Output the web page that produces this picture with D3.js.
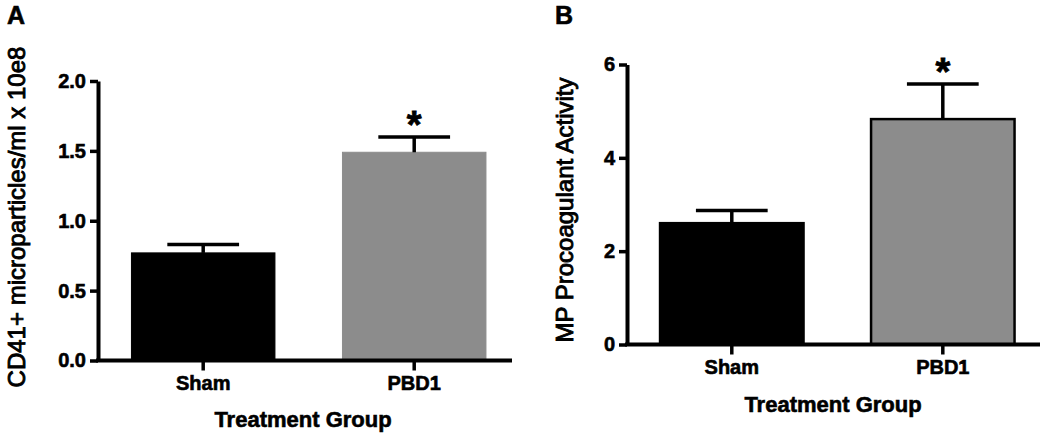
<!DOCTYPE html>
<html>
<head>
<meta charset="utf-8">
<script src="https://cdn.jsdelivr.net/npm/d3@7"></script>
<style>
  html, body { margin: 0; padding: 0; background: #fff; }
  svg { display: block; }
  text { font-family: "Liberation Sans", Arial, sans-serif; fill: #000; }
</style>
</head>
<body>
<svg id="chart" width="1050" height="436"></svg>
<script>
// ---- data ----
const categories = ["Sham", "PBD1"];
const cd41Means = [0.77, 1.49];
const cd41Sem = [0.06, 0.11];
const procoagMeans = [2.60, 4.83];
const procoagSem = [0.27, 0.75];
const cd41Ticks = [0, 0.5, 1.0, 1.5, 2.0];
const procoagTicks = [0, 2, 4, 6];
const significant = [false, true];
const panelLabels = ["A", "B"];
const yTitles = ["CD41+ microparticles/ml x 10e8", "MP Procoagulant Activity"];
const xTitle = "Treatment Group";

const svg = d3.select("#chart");
const FONT = "'Liberation Sans', Arial, sans-serif";
const AXIS_W = 4;

function heavy(sel, w) {
  return sel.attr("stroke", "#000").attr("stroke-width", w).attr("paint-order", "stroke");
}

function drawPanel(cfg) {
  const g = svg.append("g");
  const x = d3.scaleBand().domain(categories)
    .range([cfg.bandL, cfg.bandR]).paddingInner(0.32).paddingOuter(0.15);
  const y = d3.scaleLinear().domain(cfg.domain).range([cfg.y0, cfg.y1]);

  // bars
  g.selectAll("rect.bar").data(categories).enter().append("rect")
    .attr("class", "bar")
    .attr("x", d => x(d))
    .attr("width", x.bandwidth())
    .attr("y", (d, i) => y(cfg.means[i]))
    .attr("height", (d, i) => y(0) - y(cfg.means[i]))
    .attr("fill", (d, i) => i === 0 ? "#000" : "#8c8c8c")
    .attr("stroke", (d, i) => i === 0 ? "#000" : cfg.grayStroke)
    .attr("stroke-width", cfg.grayStrokeW);

  // error bars (upper only)
  const capW = x.bandwidth() * 0.5;
  categories.forEach((c, i) => {
    const cx = x(c) + x.bandwidth() / 2;
    const top = y(cfg.means[i] + cfg.sem[i]);
    g.append("line").attr("x1", cx).attr("x2", cx)
      .attr("y1", y(cfg.means[i])).attr("y2", top)
      .attr("stroke", "#000").attr("stroke-width", 3.5);
    g.append("line").attr("x1", cx - capW / 2).attr("x2", cx + capW / 2)
      .attr("y1", top).attr("y2", top)
      .attr("stroke", "#000").attr("stroke-width", 3.5);
    if (significant[i]) {
      heavy(g.append("text").attr("x", cx).attr("y", top + 1)
        .attr("text-anchor", "middle")
        .attr("font-size", 38).attr("font-weight", "bold")
        .text("*"), 0.8);
    }
  });

  // y axis
  const yAxis = d3.axisLeft(y).tickValues(cfg.ticks).tickFormat(cfg.fmt)
    .tickSize(8).tickSizeOuter(0).tickPadding(4);
  const ya = g.append("g").attr("transform", `translate(${cfg.axisX},0)`).call(yAxis);
  ya.select(".domain").attr("stroke-width", AXIS_W).attr("stroke", "#000");
  ya.selectAll(".tick line").attr("stroke-width", 3.5).attr("stroke", "#000");
  heavy(ya.selectAll(".tick text").attr("font-size", 20).attr("font-weight", "bold")
    .attr("fill", "#000").style("font-family", FONT), 0.6);

  // x axis
  const xAxis = d3.axisBottom(x).tickSize(10).tickSizeOuter(0).tickPadding(5);
  const xa = g.append("g").attr("transform", `translate(0,${cfg.y0})`).call(xAxis);
  xa.select(".domain").remove();
  xa.append("line").attr("x1", cfg.axisX - AXIS_W / 2).attr("x2", cfg.axisEnd)
    .attr("y1", 0).attr("y2", 0).attr("stroke", "#000").attr("stroke-width", AXIS_W);
  xa.selectAll(".tick line").attr("stroke-width", 3.5).attr("stroke", "#000");
  heavy(xa.selectAll(".tick text").attr("font-size", 20).attr("font-weight", "bold")
    .attr("fill", "#000").style("font-family", FONT), 0.6);

  // x title
  heavy(g.append("text").attr("x", cfg.xTitleX).attr("y", cfg.y0 + cfg.xTitleDy)
    .attr("text-anchor", "middle").attr("font-size", 22).attr("font-weight", "bold")
    .text(xTitle), 0.6);

  // y title
  heavy(g.append("text")
    .attr("transform", `translate(${cfg.yTitleX},${cfg.yTitleY}) rotate(-90)`)
    .attr("text-anchor", "middle").attr("font-size", 24)
    .text(cfg.yTitle), 0.9);

  // panel letter
  heavy(g.append("text").attr("x", cfg.letterX).attr("y", 24)
    .attr("font-size", 25).attr("font-weight", "bold").text(cfg.letter), 0.6);
}

drawPanel({
  means: cd41Means, sem: cd41Sem, ticks: cd41Ticks, fmt: d3.format(".1f"),
  domain: [0, 2], y0: 360.5, y1: 81, axisX: 98, axisEnd: 512,
  bandL: 99.8, bandR: 517.6, grayStroke: "#8c8c8c", grayStrokeW: 1,
  xTitleX: 303, xTitleDy: 66, yTitleX: 25, yTitleY: 217,
  yTitle: yTitles[0], letter: panelLabels[0], letterX: 7
});

drawPanel({
  means: procoagMeans, sem: procoagSem, ticks: procoagTicks, fmt: d3.format("d"),
  domain: [0, 6], y0: 344.5, y1: 64.5, axisX: 627, axisEnd: 1040,
  bandL: 628.4, bandR: 1046.2, grayStroke: "#000", grayStrokeW: 2.5,
  xTitleX: 833, xTitleDy: 67, yTitleX: 573, yTitleY: 210,
  yTitle: yTitles[1], letter: panelLabels[1], letterX: 555
});
</script>
</body>
</html>
